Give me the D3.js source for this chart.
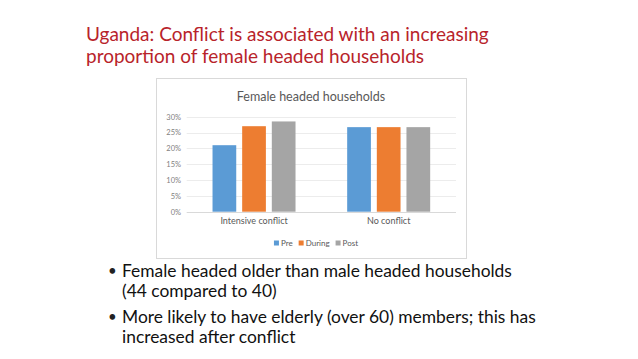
<!DOCTYPE html>
<html><head><meta charset="utf-8">
<script src="https://cdn.jsdelivr.net/npm/d3@7"></script>
<style>body{margin:0;background:#fff}svg{display:block}</style>
</head><body>
<script>
const categories = ["Intensive conflict", "No conflict"];
const seriesNames = ["Pre", "During", "Post"];
const preValues = [0.21, 0.267];
const duringValues = [0.27, 0.267];
const postValues = [0.285, 0.267];
const yTicks = [0, 0.05, 0.10, 0.15, 0.20, 0.25, 0.30];
const colors = ["#5b9bd5", "#ed7d31", "#a5a5a5"];
const titleLines = ["Uganda: Conflict is associated with an increasing", "proportion of female headed households"];
const bullets = [["Female headed older than male headed households", "(44 compared to 40)"], ["More likely to have elderly (over 60) members; this has", "increased after conflict"]];

const W = 638, H = 359;
const font = "Lato, 'Open Sans', sans-serif";
const svg = d3.select("body").append("svg").attr("width", W).attr("height", H);

// main title
svg.append("g").selectAll("text").data(titleLines).join("text")
  .attr("x", 86).attr("y", (d, i) => 41 + i * 21.5)
  .attr("font-family", font).attr("font-size", 19).attr("fill", "#b8232a")
  .text(d => d);

// chart box
svg.append("rect").attr("x", 156.5).attr("y", 78.5).attr("width", 310).attr("height", 180)
  .attr("fill", "#fff").attr("stroke", "#d9d9d9");

svg.append("text").attr("x", 311).attr("y", 101).attr("text-anchor", "middle")
  .attr("font-family", font).attr("font-size", 12.5).attr("fill", "#595959")
  .text("Female headed households");

const x0 = d3.scaleBand().domain(categories).range([186.7, 456]);
const x1 = d3.scaleBand().domain(seriesNames).range([0, 83]).paddingInner(0.2).paddingOuter(0);
const y = d3.scaleLinear().domain([0, 0.30]).range([211.7, 116.7]);

// grid
svg.append("g").selectAll("line").data(yTicks).join("line")
  .attr("x1", 186.7).attr("x2", 456).attr("y1", d => Math.round(y(d)) + 0.5).attr("y2", d => Math.round(y(d)) + 0.5)
  .attr("stroke", d => d === 0 ? "#d9d9d9" : "#ececec");

const yAxis = svg.append("g").attr("transform", "translate(181,0)")
  .call(d3.axisLeft(y).tickValues(yTicks).tickFormat(d3.format(".0%")).tickSize(0).tickPadding(0));
yAxis.select(".domain").remove();
yAxis.selectAll("text").attr("font-family", font).attr("font-size", 7.5).attr("fill", "#7f7f7f").attr("dy", "0.32em");

// bars
const data = categories.map((c, i) => ({cat: c, vals: [preValues[i], duringValues[i], postValues[i]]}));
const groups = svg.append("g").selectAll("g").data(data).join("g")
  .attr("transform", d => `translate(${x0(d.cat) + (x0.bandwidth() - 83) / 2},0)`);
groups.selectAll("rect").data(d => d.vals.map((v, j) => ({s: seriesNames[j], v, j}))).join("rect")
  .attr("x", d => x1(d.s)).attr("width", x1.bandwidth())
  .attr("y", d => y(d.v)).attr("height", d => y(0) - y(d.v))
  .attr("fill", d => colors[d.j]);

// x axis labels
const xAxis = svg.append("g").attr("transform", "translate(0,218)")
  .call(d3.axisBottom(x0).tickSize(0).tickPadding(0));
xAxis.select(".domain").remove();
xAxis.selectAll("text").attr("font-family", font).attr("font-size", 9).attr("fill", "#595959").attr("dy", "0.71em");

// legend (laid out from measured text widths, centred)
const lg = svg.append("g");
const items = lg.selectAll("g").data(seriesNames).join("g");
items.append("rect").attr("x", 0).attr("y", -2.5).attr("width", 5).attr("height", 5).attr("fill", (d, i) => colors[i]);
items.append("text").attr("x", 7).attr("y", 0).attr("dy", "0.35em")
  .attr("font-family", font).attr("font-size", 8).attr("fill", "#595959").text(d => d);
let cx = 0;
items.each(function() {
  const g = d3.select(this);
  g.attr("transform", `translate(${cx},243)`);
  cx += 7 + g.select("text").node().getComputedTextLength() + 6;
});
const total = cx - 6;
lg.attr("transform", `translate(${316 - total / 2},0)`);

// bullets
const bl = svg.append("g").selectAll("g").data(bullets).join("g")
  .attr("transform", (d, i) => `translate(0,${277 + i * 46})`);
bl.append("text").attr("x", 108).attr("y", -1).attr("font-family", font).attr("font-size", 15).attr("fill", "#222").text("•");
bl.selectAll("text.l").data(d => d).join("text").attr("class", "l")
  .attr("x", 122).attr("y", (d, i) => i * 19.5)
  .attr("font-family", font).attr("font-size", 17.4).attr("fill", "#111").text(d => d);
</script>
</body></html>
